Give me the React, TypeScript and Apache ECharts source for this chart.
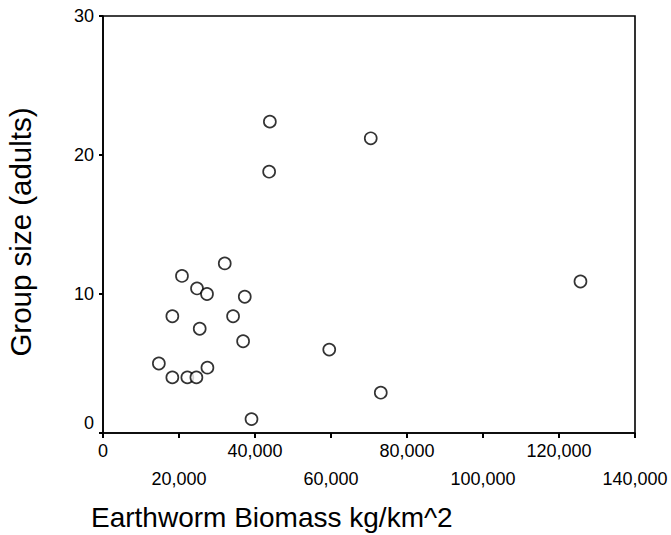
import React, { useEffect, useRef } from "react";
import * as echarts from "echarts";

const biomass = [14700, 18250, 18250, 20780, 22200, 24580, 24740, 25450, 27370, 27480, 32040, 34230, 36870, 37310, 39080, 43720, 43910, 59540, 70460, 73100, 125650];
const groupSize = [5.0, 4.0, 8.4, 11.3, 4.0, 4.0, 10.4, 7.5, 10.0, 4.7, 12.2, 8.4, 6.6, 9.8, 1.0, 18.8, 22.4, 6.0, 21.2, 2.9, 10.9];
const xTicks = [0, 20000, 40000, 60000, 80000, 100000, 120000, 140000];
const yTicks = [0, 10, 20, 30];
const xTitle = "Earthworm Biomass kg/km^2";
const yTitle = "Group size (adults)";

const FONT = "'Liberation Sans', Arial, sans-serif";

export default function App() {
  const ref = useRef<HTMLDivElement>(null);
  useEffect(() => {
    document.body.style.margin = "0";
    const chart = echarts.init(ref.current!, null, { renderer: "svg" });
    const points = biomass.map((x, i) => [x, groupSize[i]]);
    chart.setOption({
      animation: false,
      backgroundColor: "#fff",
      textStyle: { fontFamily: FONT, color: "#000" },
      grid: {
        left: 103,
        top: 16,
        right: 36,
        bottom: 102,
        show: true,
        borderColor: "#000",
        borderWidth: 1.6,
        backgroundColor: "transparent",
      },
      xAxis: {
        type: "value",
        min: xTicks[0],
        max: xTicks[xTicks.length - 1],
        interval: xTicks[1] - xTicks[0],
        splitLine: { show: false },
        axisLine: { show: true, lineStyle: { color: "#000", width: 1.6 } },
        axisTick: { show: true, length: 5, lineStyle: { color: "#000", width: 2 } },
        axisLabel: {
          margin: 4,
          fontSize: 18,
          lineHeight: 28,
          color: "#000",
          fontFamily: FONT,
          showMaxLabel: true,
          formatter: (v: number) => {
            const idx = xTicks.indexOf(v);
            const s = v.toLocaleString("en-US");
            return idx % 2 === 1 ? "\n" + s : s;
          },
        },
      },
      yAxis: {
        type: "value",
        min: yTicks[0],
        max: yTicks[yTicks.length - 1],
        interval: yTicks[1] - yTicks[0],
        splitLine: { show: false },
        axisLine: { show: true, lineStyle: { color: "#000", width: 1.6 } },
        axisTick: { show: true, length: 4, lineStyle: { color: "#000", width: 2 } },
        axisLabel: {
          margin: 9,
          fontSize: 18,
          color: "#000",
          fontFamily: FONT,
          formatter: (v: number) => (v === 0 ? "{z|0}" : "{n|" + v + "}"),
          rich: {
            z: { fontSize: 18, fontFamily: FONT, color: "#000", padding: [0, 0, 20, 0] },
            n: { fontSize: 18, fontFamily: FONT, color: "#000" },
          },
        },
      },
      series: [
        {
          type: "scatter",
          data: points,
          symbol: "circle",
          symbolSize: 12,
          itemStyle: { color: "#fff", borderColor: "#000", borderWidth: 1.7 },
        },
      ],
      graphic: [
        {
          type: "text",
          x: 91,
          y: 517,
          style: {
            text: xTitle,
            fontSize: 28,
            fontFamily: FONT,
            fill: "#000",
            align: "left",
            verticalAlign: "middle",
          },
        },
        {
          type: "text",
          x: 20,
          y: 232,
          rotation: Math.PI / 2,
          style: {
            text: yTitle,
            fontSize: 29.5,
            fontFamily: FONT,
            fill: "#000",
            align: "center",
            verticalAlign: "middle",
          },
        },
      ],
    });
    return () => chart.dispose();
  }, []);
  return <div ref={ref} style={{ width: 671, height: 535 }} />;
}
